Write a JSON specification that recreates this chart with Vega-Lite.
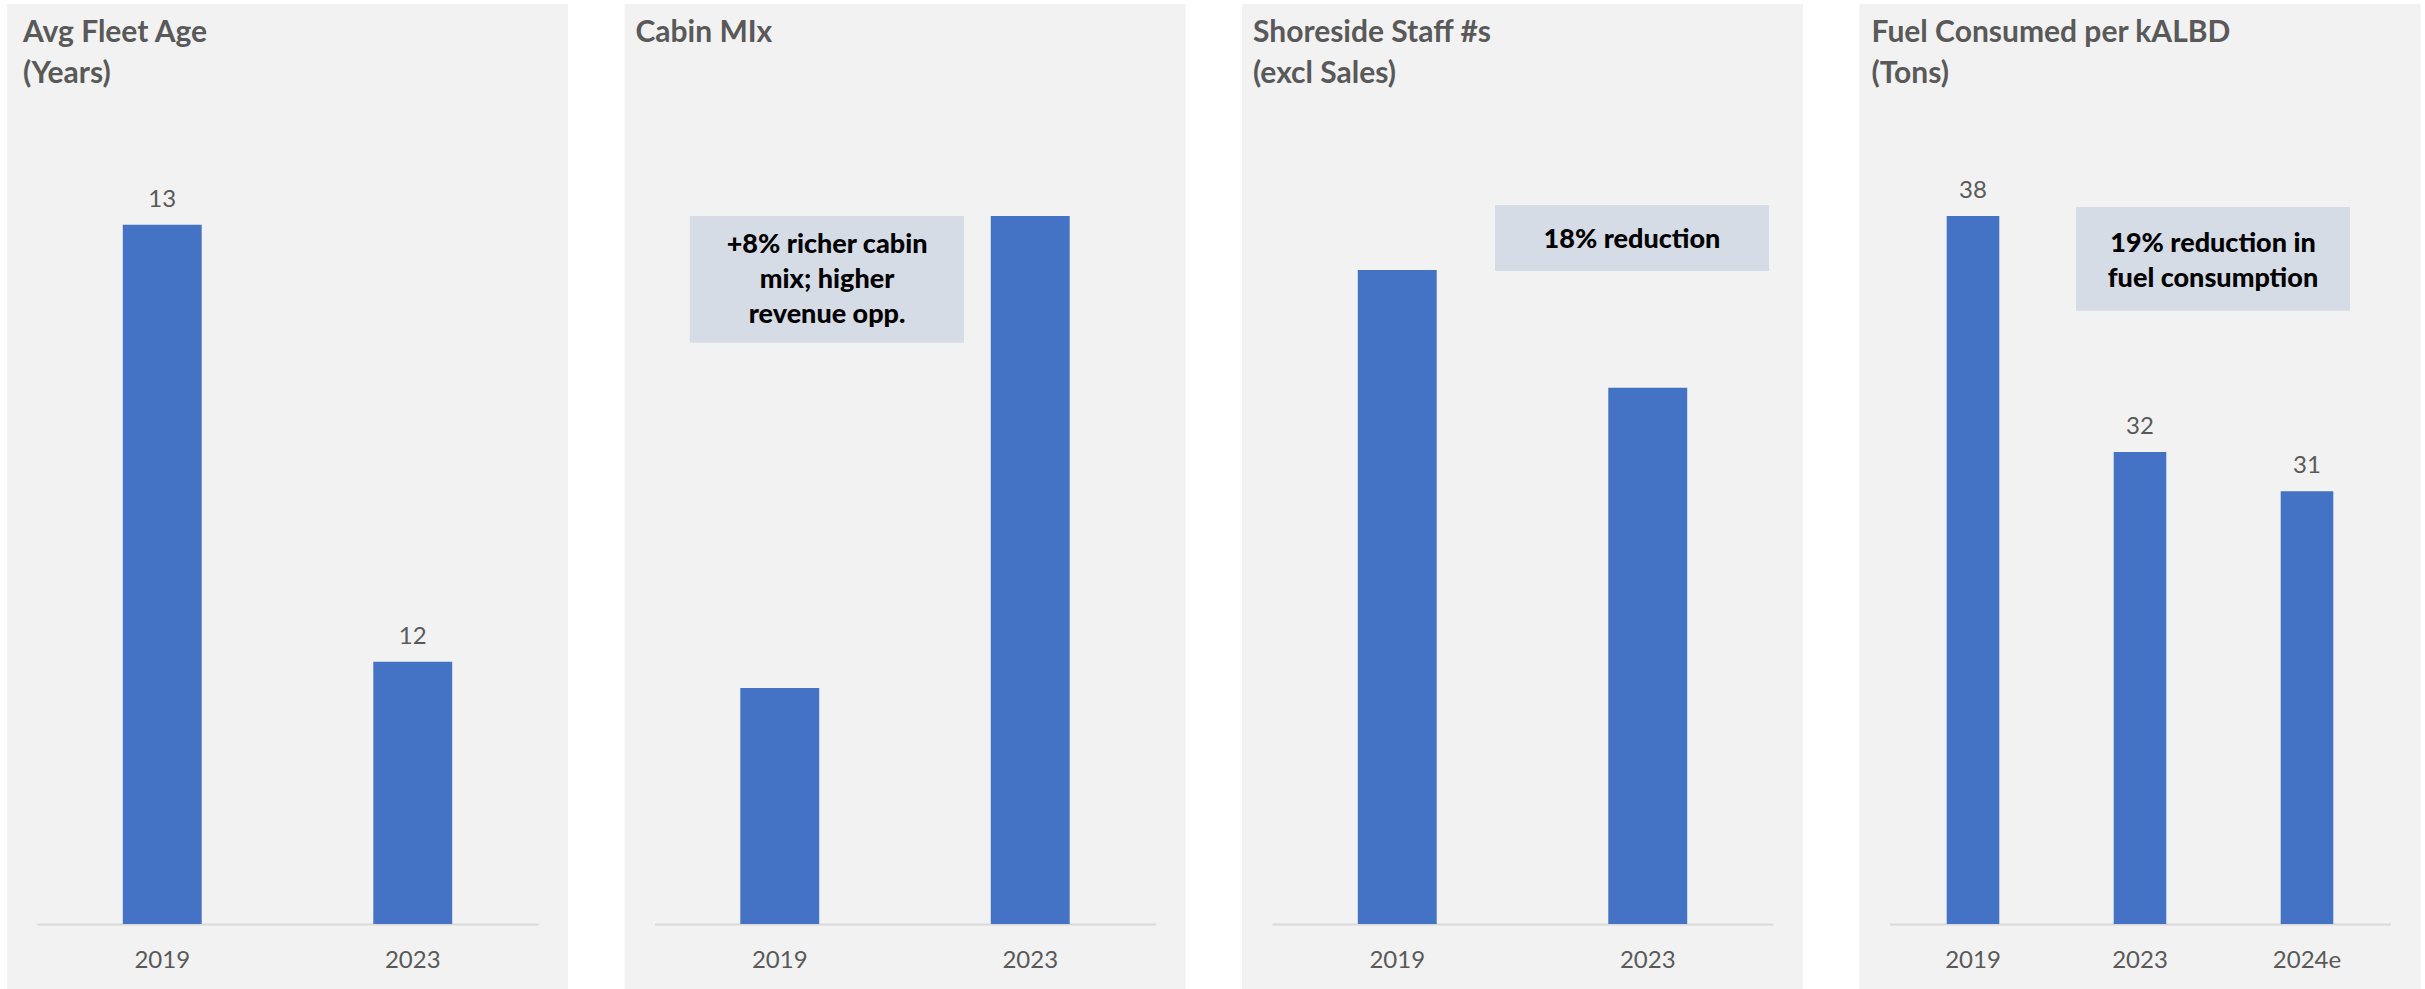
{
  "$schema": "https://vega.github.io/schema/vega-lite/v6.json",
  "background": "white",
  "padding": {"left": 7, "top": 4, "right": 0, "bottom": 0},
  "spacing": 56.5,
  "config": {
    "view": {"stroke": null, "fill": "#f2f2f2"},
    "font": "Lato",
    "title": {"anchor": "start", "orient": "top", "frame": "group", "baseline": "top", "font": "Lato", "fontSize": 30, "fontWeight": "bold", "color": "#595959", "lineHeight": 41, "offset": -85},
    "axisX": {"title": null, "labelAngle": 0, "offset": -65, "domainColor": "#d9d9d9", "domainWidth": 2, "ticks": false, "tickSize": 0, "labelPadding": 24, "labelFont": "Lato", "labelFontSize": 24, "labelColor": "#595959", "grid": false},
    "bar": {"color": "#4472c4"}
  },
  "hconcat": [
    {
      "width": 561, "height": 985,
      "title": {"text": ["Avg Fleet Age", "(Years)"], "dx": 16},
      "data": {"values": [{"year": "2019", "value": 13}, {"year": "2023", "value": 12}]},
      "encoding": {"x": {"field": "year", "type": "nominal", "scale": {"range": [30, 531], "paddingInner": 0.685, "paddingOuter": 0.3425}}},
      "layer": [
        {"mark": {"type": "bar"}, "encoding": {"y": {"field": "value", "type": "quantitative", "scale": {"domain": [11.2513, 13.5053], "zero": false, "nice": false}, "axis": null}, "y2": {"datum": 11.4}}},
        {"mark": {"type": "text", "font": "Lato", "fontSize": 24, "color": "#595959", "baseline": "alphabetic", "dy": -18}, "encoding": {"y": {"field": "value", "type": "quantitative"}, "text": {"field": "value", "type": "quantitative"}}}
      ]
    },
    {
      "width": 561, "height": 985,
      "title": {"text": "Cabin MIx", "dx": 11, "offset": -44},
      "data": {"values": [{"year": "2019", "value": 100}, {"year": "2023", "value": 108}]},
      "encoding": {"x": {"field": "year", "type": "nominal", "scale": {"range": [30, 531], "paddingInner": 0.685, "paddingOuter": 0.3425}}},
      "layer": [
        {"mark": {"type": "bar"}, "encoding": {"y": {"field": "value", "type": "quantitative", "scale": {"domain": [94.8983, 111.593], "zero": false, "nice": false}, "axis": null}, "y2": {"datum": 96}}},
        {"data": {"values": [{"note": "+8% richer cabin\nmix; higher\nrevenue opp."}]}, "mark": {"type": "rect", "color": "#d6dce5"}, "encoding": {"x": {"datum": "2019", "bandPosition": -0.64}, "x2": {"datum": "2023", "bandPosition": -0.34}, "y": {"datum": 108.0}, "y2": {"datum": 105.85}}},
        {"data": {"values": [{"note": "+8% richer cabin\nmix; higher\nrevenue opp."}]}, "mark": {"type": "text", "font": "Lato", "fontWeight": 900, "fontSize": 27, "color": "black", "lineBreak": "\n", "lineHeight": 35, "align": "center", "baseline": "alphabetic"}, "encoding": {"x": {"datum": "2019", "bandPosition": 1.10}, "y": {"datum": 107.37}, "text": {"field": "note"}}}
      ]
    },
    {
      "width": 561, "height": 985,
      "title": {"text": ["Shoreside Staff #s", "(excl Sales)"], "dx": 11},
      "data": {"values": [{"year": "2019", "value": 1000}, {"year": "2023", "value": 820}]},
      "encoding": {"x": {"field": "year", "type": "nominal", "scale": {"range": [30, 531], "paddingInner": 0.685, "paddingOuter": 0.3425}}},
      "layer": [
        {"mark": {"type": "bar"}, "encoding": {"y": {"field": "value", "type": "quantitative", "scale": {"domain": [-99.388, 1406.73], "zero": false, "nice": false}, "axis": null}, "y2": {"datum": 0}}},
        {"data": {"values": [{"note": "18% reduction"}]}, "mark": {"type": "rect", "color": "#d6dce5"}, "encoding": {"x": {"datum": "2023", "bandPosition": -1.436}, "x2": {"datum": "2023", "bandPosition": 2.037}, "y": {"datum": 1099.4}, "y2": {"datum": 998.5}}},
        {"data": {"values": [{"note": "18% reduction"}]}, "mark": {"type": "text", "font": "Lato", "fontWeight": 900, "fontSize": 27, "color": "black", "align": "center", "baseline": "alphabetic"}, "encoding": {"x": {"datum": "2023", "bandPosition": 0.30}, "y": {"datum": 1033.6}, "text": {"field": "note"}}}
      ]
    },
    {
      "width": 561, "height": 985,
      "title": {"text": ["Fuel Consumed per kALBD", "(Tons)"], "dx": 12},
      "data": {"values": [{"year": "2019", "value": 38}, {"year": "2023", "value": 32}, {"year": "2024e", "value": 31}]},
      "encoding": {"x": {"field": "year", "type": "nominal", "scale": {"range": [30, 531], "paddingInner": 0.685, "paddingOuter": 0.3425}}},
      "layer": [
        {"mark": {"type": "bar"}, "encoding": {"y": {"field": "value", "type": "quantitative", "scale": {"domain": [18.3473, 43.392], "zero": false, "nice": false}, "axis": null}, "y2": {"datum": 20}}},
        {"mark": {"type": "text", "font": "Lato", "fontSize": 24, "color": "#595959", "baseline": "alphabetic", "dy": -18}, "encoding": {"y": {"field": "value", "type": "quantitative"}, "text": {"field": "value", "type": "quantitative"}}},
        {"data": {"values": [{"note": "19% reduction in\nfuel consumption"}]}, "mark": {"type": "rect", "color": "#d6dce5"}, "encoding": {"x": {"datum": "2023", "bandPosition": -0.717}, "x2": {"datum": "2024e", "bandPosition": 1.317}, "y": {"datum": 38.23}, "y2": {"datum": 35.59}}},
        {"data": {"values": [{"note": "19% reduction in\nfuel consumption"}]}, "mark": {"type": "text", "font": "Lato", "fontWeight": 900, "fontSize": 27, "color": "black", "lineBreak": "\n", "lineHeight": 35, "align": "center", "baseline": "alphabetic"}, "encoding": {"x": {"datum": "2023", "bandPosition": 1.888}, "y": {"datum": 37.086}, "text": {"field": "note"}}}
      ]
    }
  ]
}
